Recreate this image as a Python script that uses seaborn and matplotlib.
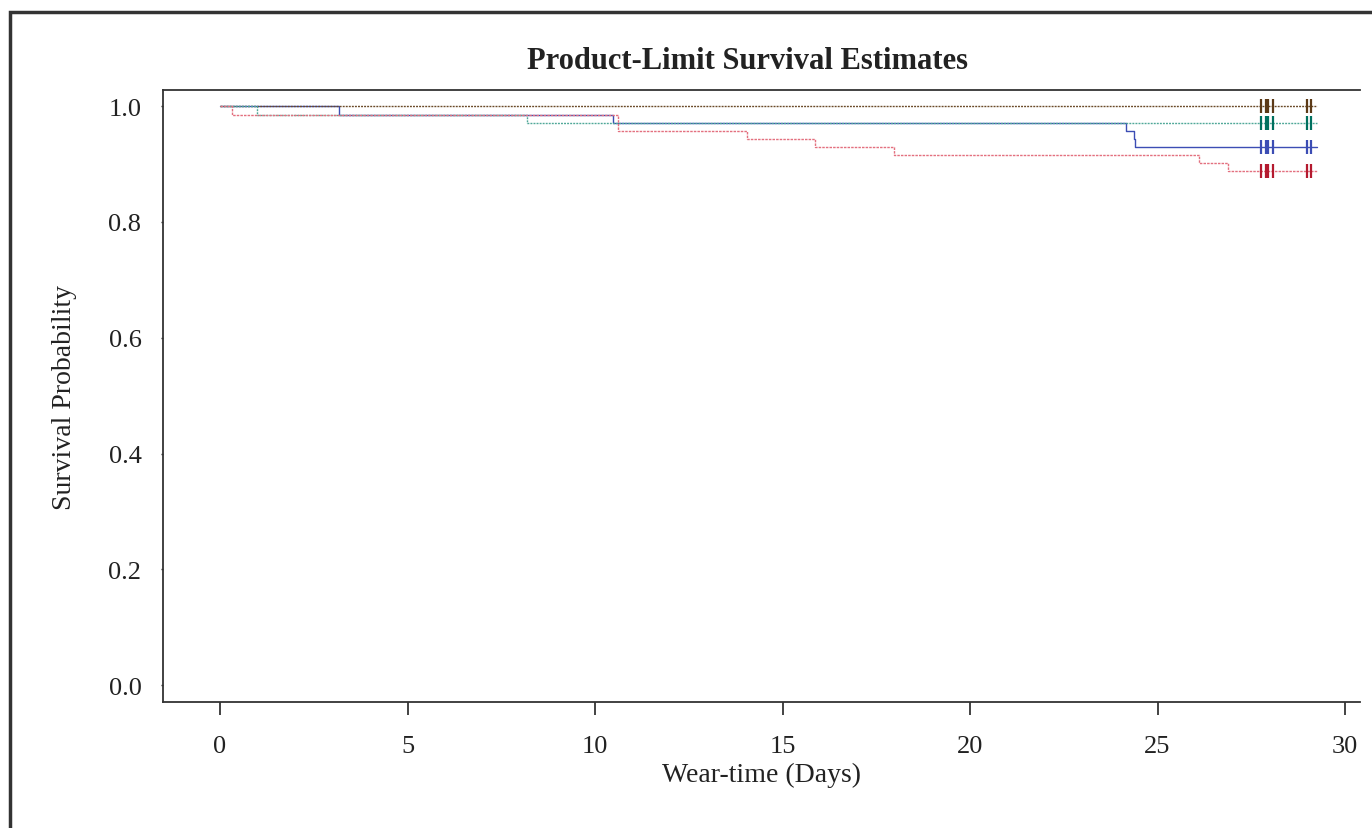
import pandas as pd
import matplotlib
matplotlib.use("Agg")
import matplotlib.pyplot as plt
import seaborn as sns
from matplotlib.patches import Rectangle

# Step points of the product-limit curves (time in days, survival estimate)
red_t = [0, 0.33, 10.61, 14.05, 15.86, 17.97, 26.10, 26.87, 29.26]
red_s = [1.0, 0.9845, 0.9568, 0.9425, 0.9287, 0.9149, 0.9016, 0.8877, 0.8877]

teal_t = [0, 1.00, 8.19, 29.26]
teal_s = [1.0, 0.9845, 0.9706, 0.9706]

blue_t = [0, 3.18, 10.49, 24.16, 24.37, 24.40, 29.26]
blue_s = [1.0, 0.9845, 0.9706, 0.9568, 0.9430, 0.9292, 0.9292]

brown_t = [0, 29.26]
brown_s = [1.0, 1.0]

# censored observations (same times in every group)
censor_t = [27.75, 27.88, 27.95, 28.09, 28.99, 29.08]

groups = ["Group 1", "Group 2", "Group 3", "Group 4"]
colors = {"Group 1": "#3c4db4", "Group 2": "#5c3a17",
          "Group 3": "#00705f", "Group 4": "#b41a2f"}
line_colors = {"Group 1": "#3c4db4", "Group 2": "#6a4a28",
               "Group 3": "#4fa898", "Group 4": "#e3707f"}
dashes = {"Group 1": "", "Group 2": (1.4, 0.8),
          "Group 3": (1.4, 0.8), "Group 4": (1.8, 0.8)}

curves = {"Group 1": (blue_t, blue_s), "Group 2": (brown_t, brown_s),
          "Group 3": (teal_t, teal_s), "Group 4": (red_t, red_s)}

rows = []
cens_rows = []
for g in groups:
    t, s = curves[g]
    for ti, si in zip(t, s):
        rows.append({"time": ti, "surv": si, "group": g})
    for ct in censor_t:
        cens_rows.append({"time": ct, "surv": s[-1], "group": g})
df = pd.DataFrame(rows)
cens = pd.DataFrame(cens_rows)

sns.set_theme(style="white")
plt.rcParams["font.family"] = ["Liberation Serif", "DejaVu Serif"]

fig = plt.figure(figsize=(13.72, 8.29), dpi=100)
ax = fig.add_axes([0.1188, 0.152, 0.8725, 0.7382])

sns.lineplot(data=df, x="time", y="surv", hue="group", style="group",
             hue_order=groups, style_order=groups, palette=line_colors,
             dashes=dashes, estimator=None, sort=False, drawstyle="steps-post",
             linewidth=1.0, legend=False, ax=ax)

sns.scatterplot(data=cens, x="time", y="surv", hue="group", hue_order=groups,
                palette=colors, marker="|", s=110, linewidth=1.6,
                legend=False, ax=ax, zorder=5)

ax.set_xlim(-1.52, 30.4)
ax.set_ylim(-0.029, 1.0276)
ax.set_xticks([0, 5, 10, 15, 20, 25, 30])
ax.set_yticks([0.0, 0.2, 0.4, 0.6, 0.8, 1.0])
ax.set_yticklabels(["0.0", "0.2", "0.4", "0.6", "0.8", "1.0"])
ax.tick_params(axis="x", direction="out", length=9.5, width=1.2,
               pad=14, labelsize=19, colors="#222222", bottom=True)
ax.tick_params(axis="y", direction="out", length=1.5, width=1,
               pad=14, labelsize=19, colors="#222222", left=True)

for side in ["left", "bottom", "top"]:
    ax.spines[side].set_color("#333333")
    ax.spines[side].set_linewidth(1.3)
ax.spines["right"].set_visible(False)

ax.set_xlabel("Wear-time (Days)", fontsize=20, color="#222222")
ax.set_ylabel("Survival Probability", fontsize=20, color="#222222")
ax.xaxis.set_label_coords(0.5, -0.098)
ax.yaxis.set_label_coords(-0.072, 0.5)

fig.text(0.5445, 0.926, "Product-Limit Survival Estimates", ha="center",
         va="center", fontsize=22, fontweight="bold", color="#222222")

# outer frame of the graphic
fig.patches.append(Rectangle((10 / 1372, -0.05), 1.2, 1.05 - 13 / 829,
                             transform=fig.transFigure, fill=False,
                             edgecolor="#333333", linewidth=2.5))

fig.savefig("out.png", dpi=100)
